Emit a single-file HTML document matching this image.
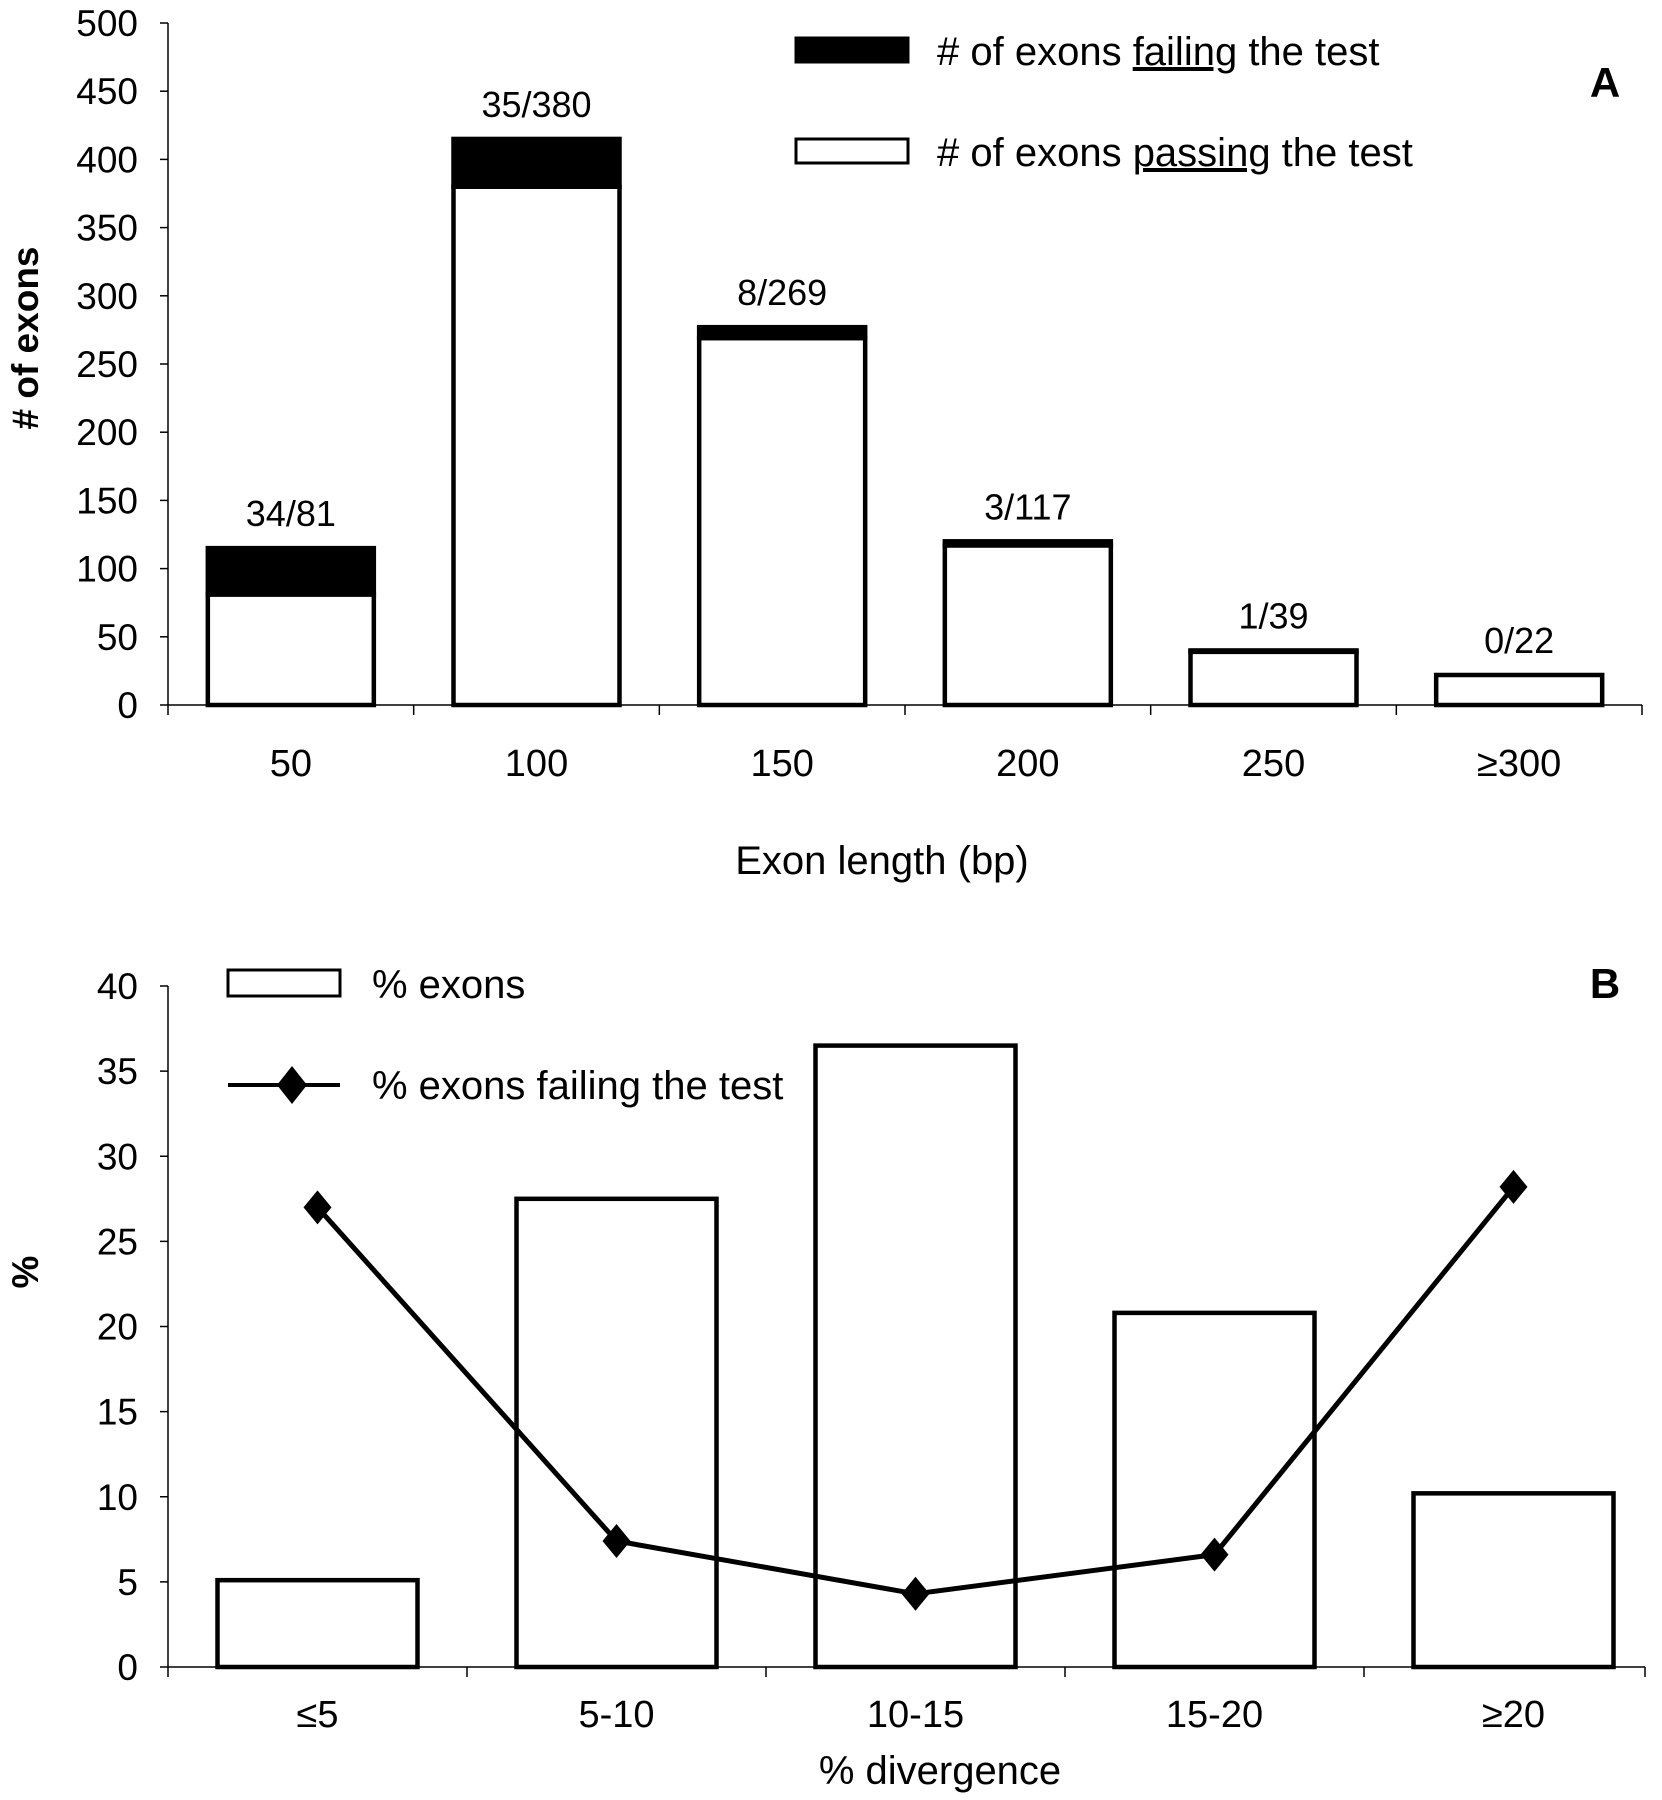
<!DOCTYPE html>
<html><head><meta charset="utf-8"><style>
html,body{margin:0;padding:0;background:#fff}
svg{display:block;font-family:"Liberation Sans",Arial,sans-serif}
</style></head><body>
<svg id="chart" width="1662" height="1800" viewBox="0 0 1662 1800" xmlns="http://www.w3.org/2000/svg">
<g id="panelA"></g>
<g id="panelB"></g>
</svg>
<script>
const catsA = ["50","100","150","200","250","\u2265300"];
const passA = [81,380,269,117,39,22];
const failA = [34,35,8,3,1,0];
const ticksA = [0,50,100,150,200,250,300,350,400,450,500];
const catsB = ["\u22645","5-10","10-15","15-20","\u226520"];
const barsB = [5.1,27.5,36.5,20.8,10.2];
const lineB = [27.0,7.4,4.3,6.6,28.2];
const ticksB = [0,5,10,15,20,25,30,35,40];

const NS="http://www.w3.org/2000/svg";
function mk(parent,tag,attrs,text){const e=document.createElementNS(NS,tag);for(const k in attrs)e.setAttribute(k,attrs[k]);if(text!==undefined)e.textContent=text;parent.appendChild(e);return e;}

// Panel A
const A=document.getElementById('panelA');
const ax0=168, ax1=1642, ay0=705, ay1=23, aMax=500;
const yA=v=>ay0-(v/aMax)*(ay0-ay1);
const cwA=(ax1-ax0)/catsA.length;
const xA=i=>ax0+cwA*(i+0.5);
let e;
e=mk(A,'line',{x1:ax0,y1:ay1,x2:ax0,y2:ay0,stroke:'#000','stroke-width':1.5});


e=mk(A,'line',{x1:ax0,y1:ay0,x2:ax1,y2:ay0,stroke:'#000','stroke-width':1.5});


ticksA.forEach(t=>{
  mk(A,'line',{x1:ax0-8,y1:yA(t),x2:ax0,y2:yA(t),stroke:'#000','stroke-width':1.5});
  e=mk(A,'text',{x:ax0-30,y:yA(t)+13,'text-anchor':'end','font-size':37},String(t));
  
  
});
for(let i=0;i<=catsA.length;i++){mk(A,'line',{x1:ax0+cwA*i,y1:ay0,x2:ax0+cwA*i,y2:ay0+10,stroke:'#000','stroke-width':1.5});}
const bwA=166;
catsA.forEach((c,i)=>{
  const x=xA(i)-bwA/2;
  e=mk(A,'rect',{x:x,y:yA(passA[i]),width:bwA,height:ay0-yA(passA[i]),fill:'#fff',stroke:'#000','stroke-width':4.5});
  
  
  if(failA[i]>0){
    e=mk(A,'rect',{x:x,y:yA(passA[i]+failA[i]),width:bwA,height:yA(passA[i])-yA(passA[i]+failA[i]),fill:'#000',stroke:'#000','stroke-width':4.5});
    
    
  }
  e=mk(A,'text',{x:xA(i),y:yA(passA[i]+failA[i])-22,'text-anchor':'middle','font-size':36},failA[i]+'/'+passA[i]);
  
  
  e=mk(A,'text',{x:xA(i),y:776,'text-anchor':'middle','font-size':38},c);
  
  
});
e=mk(A,'text',{x:882,y:874,'text-anchor':'middle','font-size':40},'Exon length (bp)');


e=mk(A,'text',{x:0,y:0,'text-anchor':'middle','font-size':37,'font-weight':'bold',transform:'translate(38,338) rotate(-90)'},'# of exons');


e=mk(A,'text',{x:1605,y:97,'text-anchor':'middle','font-size':42,'font-weight':'bold'},'A');


// legend A
e=mk(A,'rect',{x:796,y:38,width:112,height:24,fill:'#000',stroke:'#000','stroke-width':3});


e=mk(A,'text',{x:937,y:65,'font-size':40});


e.innerHTML='# of exons <tspan text-decoration="underline">failing</tspan> the test';
e=mk(A,'rect',{x:796,y:139,width:112,height:24,fill:'#fff',stroke:'#000','stroke-width':3});


e=mk(A,'text',{x:937,y:166,'font-size':40});


e.innerHTML='# of exons <tspan text-decoration="underline">passing</tspan> the test';

// Panel B
const B=document.getElementById('panelB');
const bx0=168, bxEnd=1645, by0=1667, by1=986, bMax=40;
const cwB=299;
const yB=v=>by0-(v/bMax)*(by0-by1);
const xB=i=>bx0+cwB*(i+0.5);
e=mk(B,'line',{x1:bx0,y1:by1,x2:bx0,y2:by0,stroke:'#000','stroke-width':1.5});


e=mk(B,'line',{x1:bx0,y1:by0,x2:bxEnd,y2:by0,stroke:'#000','stroke-width':1.5});


ticksB.forEach(t=>{
  mk(B,'line',{x1:bx0-8,y1:yB(t),x2:bx0,y2:yB(t),stroke:'#000','stroke-width':1.5});
  e=mk(B,'text',{x:bx0-30,y:yB(t)+13,'text-anchor':'end','font-size':37},String(t));
  
  
});
for(let i=0;i<=catsB.length;i++){const tx=Math.min(bx0+cwB*i,bxEnd);mk(B,'line',{x1:tx,y1:by0,x2:tx,y2:by0+10,stroke:'#000','stroke-width':1.5});}
const bwB=200;
catsB.forEach((c,i)=>{
  e=mk(B,'rect',{x:xB(i)-bwB/2,y:yB(barsB[i]),width:bwB,height:by0-yB(barsB[i]),fill:'#fff',stroke:'#000','stroke-width':4.5});
  
  
  e=mk(B,'text',{x:xB(i),y:1727,'text-anchor':'middle','font-size':38},c);
  
  
});
const pts=lineB.map((v,i)=>xB(i)+','+yB(v)).join(' ');
e=mk(B,'polyline',{points:pts,fill:'none',stroke:'#000','stroke-width':5,'stroke-linejoin':'round'});


lineB.forEach((v,i)=>{
  const cx=xB(i),cy=yB(v),r=17;
  e=mk(B,'polygon',{points:`${cx},${cy-r} ${cx+14},${cy} ${cx},${cy+r} ${cx-14},${cy}`,fill:'#000'});
  
  
});
e=mk(B,'text',{x:940,y:1784,'text-anchor':'middle','font-size':40},'% divergence');


e=mk(B,'text',{x:0,y:0,'text-anchor':'middle','font-size':37,'font-weight':'bold',transform:'translate(38,1272) rotate(-90)'},'%');


e=mk(B,'text',{x:1605,y:998,'text-anchor':'middle','font-size':42,'font-weight':'bold'},'B');


e=mk(B,'rect',{x:228,y:970,width:112,height:26,fill:'#fff',stroke:'#000','stroke-width':3});


e=mk(B,'text',{x:372,y:998,'font-size':40},'% exons');


e=mk(B,'line',{x1:228,y1:1085,x2:340,y2:1085,stroke:'#000','stroke-width':4});


e=mk(B,'polygon',{points:'292,1066 307,1085 292,1104 277,1085',fill:'#000'});


e=mk(B,'text',{x:372,y:1099,'font-size':40},'% exons failing the test');


</script>
</body></html>
